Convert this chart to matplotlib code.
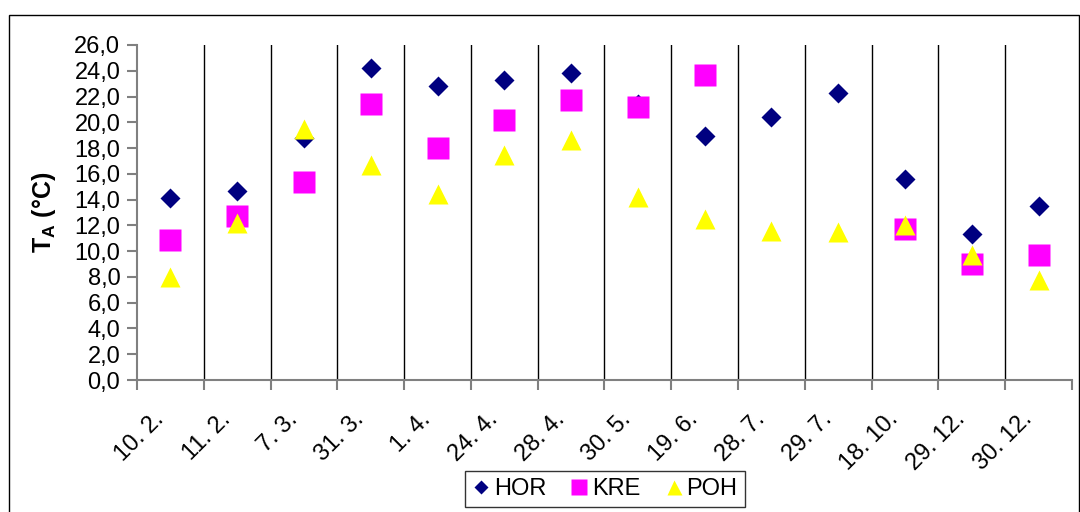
import matplotlib
matplotlib.use('Agg')
import matplotlib.pyplot as plt
from matplotlib.patches import Rectangle
from matplotlib.transforms import ScaledTranslation
import numpy as np

plt.rcParams['font.family'] = ['Liberation Sans', 'DejaVu Sans']
plt.rcParams['mathtext.fontset'] = 'custom'
plt.rcParams['mathtext.rm'] = 'Liberation Sans'
plt.rcParams['mathtext.bf'] = 'Liberation Sans:bold'

# Measurement dates and air temperatures per site
dates = ['10. 2.', '11. 2.', '7. 3.', '31. 3.', '1. 4.', '24. 4.', '28. 4.',
         '30. 5.', '19. 6.', '28. 7.', '29. 7.', '18. 10.', '29. 12.', '30. 12.']
hor = [14.1, 14.7, 18.8, 24.2, 22.8, 23.3, 23.8, 21.4, 18.9, 20.4, 22.3, 15.6, 11.3, 13.5]
kre = [10.9, 12.7, 15.4, 21.4, 18.0, 20.2, 21.7, 21.2, 23.7, np.nan, np.nan, 11.7, 9.0, 9.7]
poh = [8.0, 12.2, 19.5, 16.7, 14.4, 17.5, 18.6, 14.2, 12.5, 11.6, 11.5, 12.0, 9.7, 7.8]

yticks = np.arange(0, 27, 2)
fs = 17

fig = plt.figure(figsize=(10.8, 5.12), dpi=100)
ax = fig.add_axes([137/1080, 1 - 380/512, (1072 - 137)/1080, (380 - 45)/512])

x = np.arange(len(dates))
ax.plot(x, hor, ls='none', marker='D', ms=10, color='#000080', mec='none', label='HOR', zorder=3)
ax.plot(x, kre, ls='none', marker='s', ms=16, color='#FF00FF', mec='none', label='KRE', zorder=4)
ax.plot(x, poh, ls='none', marker='^', ms=15, color='#FFFF00', mec='none', label='POH', zorder=5)

# category separators
for b in np.arange(0.5, len(dates) - 1, 1.0):
    ax.axvline(b, color='black', lw=1, zorder=1)

ax.set_xlim(-0.5, len(dates) - 0.5)
ax.set_ylim(0, 26)
ax.set_yticks(yticks)
ax.set_yticklabels([f'{v:.1f}'.replace('.', ',') for v in yticks], fontsize=fs)

# ticks sit on the category boundaries, labels are drawn separately
ax.set_xticks(np.arange(-0.5, len(dates), 1.0))
ax.set_xticklabels([])
lab_off = ScaledTranslation(-0.10, -0.36, fig.dpi_scale_trans)
for i, d in enumerate(dates):
    ax.text(i, 0, d, transform=ax.get_xaxis_transform() + lab_off,
            rotation=45, rotation_mode='anchor', ha='right', va='center',
            fontsize=fs)

ax.tick_params(axis='x', length=7, color='#808080', width=1.5, direction='out')
ax.tick_params(axis='y', length=7, color='#808080', width=1.5, direction='out', pad=5)

for s in ['top', 'right']:
    ax.spines[s].set_visible(False)
for s in ['left', 'bottom']:
    ax.spines[s].set_color('#808080')
    ax.spines[s].set_linewidth(1.5)

ax.set_ylabel(r'$\mathbf{T_A}$ $\mathbf{(°C)}$', fontsize=18, labelpad=12)

leg = fig.legend(loc='center', bbox_to_anchor=(605/1080, 1 - 489/512), ncol=3,
                 fontsize=fs, frameon=True, fancybox=False, edgecolor='black',
                 handlelength=0.7, handletextpad=0.2, columnspacing=1.05,
                 borderpad=0.3, borderaxespad=0, markerscale=0.72)
leg.get_frame().set_linewidth(1)

# outer chart border
fig.patches.append(Rectangle((9/1080, -0.1), (1079 - 9)/1080, 1.1 - 15/512,
                             transform=fig.transFigure, fill=False,
                             edgecolor='black', lw=1))

fig.savefig('out.png', dpi=100)
